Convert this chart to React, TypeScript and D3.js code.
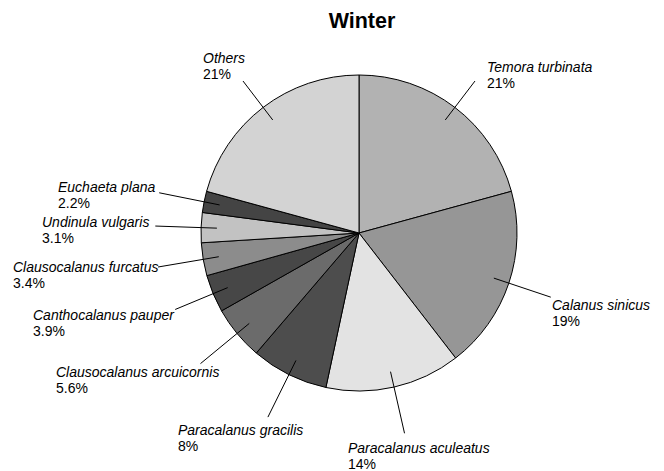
import { useEffect, useRef } from 'react';
import * as d3 from 'd3';

const species = [
  'Temora turbinata',
  'Calanus sinicus',
  'Paracalanus aculeatus',
  'Paracalanus gracilis',
  'Clausocalanus arcuicornis',
  'Canthocalanus pauper',
  'Clausocalanus furcatus',
  'Undinula vulgaris',
  'Euchaeta plana',
  'Others',
];
const percents = [21, 19, 14, 8, 5.6, 3.9, 3.4, 3.1, 2.2, 21];
const pctLabels = ['21%', '19%', '14%', '8%', '5.6%', '3.9%', '3.4%', '3.1%', '2.2%', '21%'];

const greys = ['#b2b2b2', '#969696', '#e3e3e3', '#4d4d4d', '#6b6b6b', '#474747', '#8c8c8c', '#c2c2c2', '#444444', '#d3d3d3'];

// label placement (manual, like the original layout)
const labelXY: [number, number][] = [
  [487, 72], [552, 310], [348, 453], [178, 435], [56, 377],
  [33, 320], [13, 272], [42, 227], [58, 192], [203, 63],
];
const leaderOuter = [1.21, 1.28, 1.3, 1.3, 1.3, 1.26, 1.29, 1.29, 1.29, 1.21];

export default function App() {
  const svgRef = useRef<SVGSVGElement>(null);

  useEffect(() => {
    if (!svgRef.current) return;
    const W = 664;
    const H = 471;
    const cx = 359;
    const cy = 233;
    const r = 158;

    const svg = d3.select(svgRef.current);
    svg.selectAll('*').remove();

    svg.append('rect').attr('width', W).attr('height', H).attr('fill', '#ffffff');

    svg.append('text')
      .attr('x', 362)
      .attr('y', 28)
      .attr('text-anchor', 'middle')
      .style('font-family', '"Liberation Sans", Arial, sans-serif')
      .style('font-size', '21.5px')
      .style('font-weight', 'bold')
      .text('Winter');

    const data = species.map((name, i) => ({ name, value: percents[i], i }));

    const pie = d3.pie<typeof data[0]>()
      .value(d => d.value)
      .sort(null);

    const arcs = pie(data);
    const arc = d3.arc<d3.PieArcDatum<typeof data[0]>>()
      .innerRadius(0)
      .outerRadius(r);

    const g = svg.append('g').attr('transform', `translate(${cx},${cy})`);

    g.selectAll('path.slice')
      .data(arcs)
      .join('path')
      .attr('class', 'slice')
      .attr('d', arc)
      .attr('fill', d => greys[d.data.i])
      .attr('stroke', '#000')
      .attr('stroke-width', 1)
      .attr('stroke-linejoin', 'round');

    // leader lines, radial from inside the slice out to the label
    g.selectAll('line.leader')
      .data(arcs)
      .join('line')
      .attr('class', 'leader')
      .each(function (d) {
        const a = (d.startAngle + d.endAngle) / 2;
        const k = leaderOuter[d.data.i];
        d3.select(this)
          .attr('x1', Math.sin(a) * r * 0.9)
          .attr('y1', -Math.cos(a) * r * 0.9)
          .attr('x2', Math.sin(a) * r * k)
          .attr('y2', -Math.cos(a) * r * k);
      })
      .attr('stroke', '#000')
      .attr('stroke-width', 1);

    const lbl = svg.append('g')
      .style('font-family', '"Liberation Sans", Arial, sans-serif')
      .style('font-size', '14px')
      .attr('fill', '#000');

    data.forEach(d => {
      const [x, y] = labelXY[d.i];
      lbl.append('text')
        .attr('x', x)
        .attr('y', y)
        .style('font-style', 'italic')
        .text(d.name);
      lbl.append('text')
        .attr('x', x)
        .attr('y', y + 15.5)
        .text(pctLabels[d.i]);
    });
  }, []);

  return (
    <div style={{ position: 'absolute', left: 0, top: 0, width: 664, height: 471 }}>
      <svg ref={svgRef} width={664} height={471} style={{ display: 'block' }} />
    </div>
  );
}
